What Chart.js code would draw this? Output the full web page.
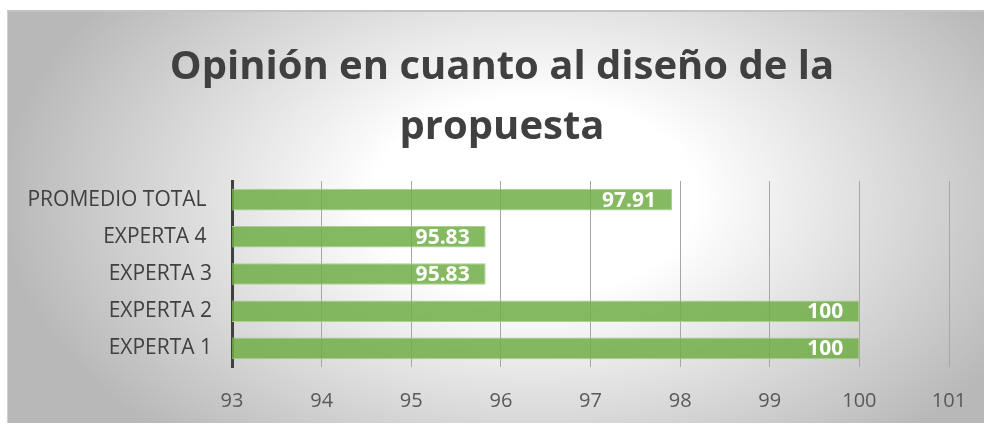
<!DOCTYPE html>
<html>
<head>
<meta charset="utf-8">
<script src="https://cdn.jsdelivr.net/npm/chart.js@4.4.1/dist/chart.umd.min.js"></script>
<style>
  html, body { margin: 0; padding: 0; background: #ffffff; }
  #box {
    position: absolute; left: 7px; top: 10px; width: 977px; height: 413px;
    border-top: 2px solid #c4c4c4; border-left: 1px solid #d0d0d0;
    box-sizing: border-box;
    background: radial-gradient(ellipse 55% 80% at 54% 45%, #ffffff 30%, #b8b8b8 100%);
  }
  #myChart { display: block; }
</style>
</head>
<body>
<div id="box"><canvas id="myChart" width="976" height="411"></canvas></div>
<script>
// chart data
var categories = ["PROMEDIO TOTAL ", "EXPERTA 4 ", "EXPERTA 3", "EXPERTA 2", "EXPERTA 1"];
var scores = [97.91, 95.83, 95.83, 100, 100];
var axisMin = 93;
var axisMax = 101;

// draws the value labels inside the end of each bar
var barValueLabels = {
  id: "barValueLabels",
  afterLayout: function (chart) {
    // title in the original sits a bit right of the canvas centre
    if (chart.titleBlock) {
      chart.titleBlock.left += 47;
    }
  },
  afterDatasetsDraw: function (chart) {
    var ctx = chart.ctx;
    var meta = chart.getDatasetMeta(0);
    ctx.save();
    ctx.font = "bold 21px 'Open Sans'";
    ctx.fillStyle = "#ffffff";
    ctx.textAlign = "right";
    ctx.textBaseline = "middle";
    meta.data.forEach(function (bar, i) {
      ctx.fillText(String(scores[i]), bar.x - 16, bar.y + 1);
    });
    ctx.restore();
  }
};

var ctx = document.getElementById("myChart").getContext("2d");
var myChart = new Chart(ctx, {
  type: "bar",
  data: {
    labels: categories,
    datasets: [{
      data: scores,
      backgroundColor: "rgba(112,173,71,0.85)",
      borderColor: "#a9d18e",
      borderWidth: 1,
      categoryPercentage: 1,
      barPercentage: 0.58
    }]
  },
  options: {
    indexAxis: "y",
    responsive: false,
    animation: false,
    layout: { padding: { left: 0, right: 35, top: 0, bottom: 4 } },
    plugins: {
      legend: { display: false },
      tooltip: { enabled: false },
      title: {
        display: true,
        text: ["Opinión en cuanto al diseño de la", "propuesta"],
        color: "#404040",
        font: { family: "'Open Sans'", size: 40, weight: "bold", lineHeight: 1.5 },
        padding: { top: 26, bottom: 23 }
      }
    },
    scales: {
      x: {
        min: axisMin,
        max: axisMax,
        ticks: { stepSize: 1, color: "#595959", padding: 4, font: { family: "'Open Sans'", size: 20 } },
        grid: { color: "#a6a6a6", lineWidth: 1, drawTicks: true, tickLength: 18, tickColor: "rgba(0,0,0,0)" },
        border: { display: false },
        afterFit: function (scale) { scale.height = 52; }
      },
      y: {
        ticks: { color: "#404040", padding: 20, font: { family: "'Open Sans'", size: 21 } },
        grid: { display: false, drawTicks: false },
        border: { display: true, color: "#404040", width: 3 },
        afterFit: function (scale) { scale.width = 224; }
      }
    }
  },
  plugins: [barValueLabels]
});
</script>
</body>
</html>
